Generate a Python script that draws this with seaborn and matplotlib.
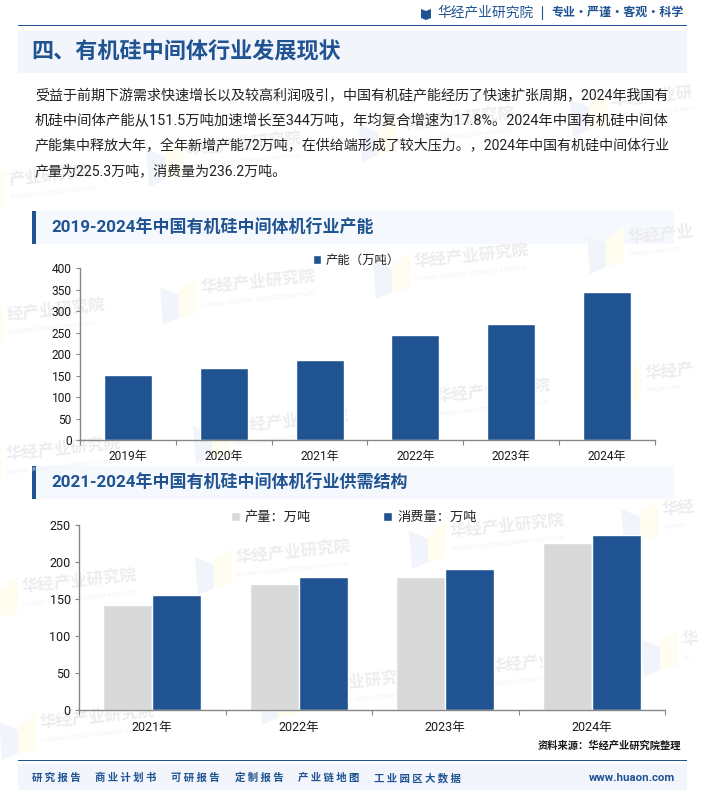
import matplotlib
matplotlib.use("Agg")
import matplotlib.pyplot as plt
from matplotlib.patches import Rectangle, Polygon
import pandas as pd
import seaborn as sns

# ---- data ----
cap_years = ["2019年", "2020年", "2021年", "2022年", "2023年", "2024年"]
capacity = [151.5, 168, 186, 245.5, 271, 344]
sd_years = ["2021年", "2022年", "2023年", "2024年"]
production = [142.5, 170.5, 180, 225.3]
consumption = [155.5, 180, 190.5, 236.2]
cap_label = "产能（万吨）"
prod_label = "产量：万吨"
cons_label = "消费量：万吨"
page_title = "四、有机硅中间体行业发展现状"
title_1 = "2019-2024年中国有机硅中间体机行业产能"
title_2 = "2021-2024年中国有机硅中间体机行业供需结构"
body_lines = [
    "受益于前期下游需求快速增长以及较高利润吸引，中国有机硅产能经历了快速扩张周期，2024年我国有",
    "机硅中间体产能从151.5万吨加速增长至344万吨，年均复合增速为17.8%。2024年中国有机硅中间体",
    "产能集中释放大年，全年新增产能72万吨，在供给端形成了较大压力。，2024年中国有机硅中间体行业",
    "产量为225.3万吨，消费量为236.2万吨。",
]
body_sizes = [14.05, 14.4, 14.03, 14.05]
footer_items = ["研 究 报 告", "商 业 计 划 书", "可 研 报 告", "定 制 报 告", "产 业 链 地 图", "工 业 园 区 大 数 据"]
footer_x = [31.5, 95, 171, 235, 298, 374]
WM = "华经产业研究院"
EN = "HUAJING INDUSTRY RESEARCH INSTITUTE"
wm_spots = [(611, 100, "华经产业研", "HUAJING INDUSTRY RESEARCH"), (400, 125, WM, EN), (187, 150, WM, EN),
            (9, 180, "产业研究院", "INDUSTRY RESEARCH INSTITUTE"), (628, 237, "华经产业", "HUAJING INDUSTRY"),
            (414, 262, WM, EN), (201, 288, WM, EN), (7, 315, "经产业研究院", "INDUSTRY RESEARCH INSTITUTE"),
            (645, 373, "华经产", "HUAJING IND"), (436, 397, WM, EN), (234, 427, WM, EN), (6, 455, WM, EN),
            (450, 532, WM, EN), (236, 558, WM, EN), (22, 587, WM, EN), (40, 723, WM, EN),
            (490, 667, WM, EN), (300, 688, WM, EN), (662, 510, "华经", "HUAJING"), (682, 640, "华", "HU")]

W, H = 705, 791
BLUE = "#1F5391"
GRAY = "#D9D9D9"
AXC = "#868686"
TXT = "#1A1A1A"
CJK = "Noto Sans CJK SC"
MIX = ["Roboto", CJK, "DejaVu Sans"]

sns.set_theme(style="white")
plt.rcParams["font.family"] = MIX
plt.rcParams["axes.unicode_minus"] = False

fig = plt.figure(figsize=(W / 100, H / 100), dpi=100, facecolor="white")
bg = fig.add_axes([0, 0, 1, 1], zorder=0)
bg.set_xlim(0, W); bg.set_ylim(H, 0); bg.axis("off")
px = lambda p: p * 0.72

# bands and rules
bg.add_patch(Rectangle((18, 31), 669, 42, fc="#F2F5FC", ec="none"))
bg.add_patch(Rectangle((18, 24.5), 669, 1.3, fc=BLUE, ec="none"))
bg.add_patch(Rectangle((18, 759.5), 669, 1.3, fc=BLUE, ec="none"))
bg.add_patch(Rectangle((18, 764), 669, 26, fc="#F2F5FC", ec="none"))
for y0 in (211, 466):
    bg.add_patch(Rectangle((32, y0), 642, 33, fc="#F5F8FD", ec="none"))
    bg.add_patch(Rectangle((32, y0), 3.5, 33, fc=BLUE, ec="none"))

# watermarks
for x0, yc, cn, en in wm_spots:
    bg.add_patch(Polygon([(x0 - 41, yc - 1), (x0 - 22, yc + 7), (x0 - 22, yc + 30), (x0 - 38, yc + 37)],
                         fc="#F1F4FA", ec="none"))
    bg.add_patch(Polygon([(x0 - 22, yc + 3), (x0 - 4, yc - 10), (x0 - 4, yc + 26), (x0 - 22, yc + 30)],
                         fc="#FFFCF0", ec="none"))
    bg.text(x0, yc, cn, fontsize=px(16.5), fontweight="bold", color="#EDEDED", rotation=6,
            rotation_mode="anchor", ha="left", va="center", family=[CJK])
    bg.text(x0 + 1, yc + 18, en, fontsize=px(5.5), color="#F1F1F1", rotation=6,
            rotation_mode="anchor", ha="left", va="center", family=["DejaVu Sans"])

# header
bg.add_patch(Polygon([(421, 9), (426, 11), (426, 20), (421, 18)], fc=BLUE, ec="none"))
bg.add_patch(Polygon([(426, 11), (431, 9), (431, 18), (426, 20)], fc=BLUE, ec="none"))
bg.text(437, 12, "华经产业研究院", fontsize=px(13.7), fontweight="medium", color=BLUE, va="center", family=[CJK])
bg.plot([541.5, 541.5], [6, 19], color=BLUE, lw=0.8)
bg.text(684, 12, "专业•严谨•客观•科学", fontsize=px(12), color=BLUE, ha="right", va="center",
        fontweight="bold", family=[CJK, "DejaVu Sans"])

bg.text(31, 52, page_title, fontsize=px(22.1), fontweight="bold", color=BLUE, va="center", family=[CJK])
for y, line, size in zip((96, 121.5, 146, 171.5), body_lines, body_sizes):
    bg.text(35, y, line, fontsize=px(size), color="#222222", va="center", family=MIX)
bg.text(51, 227.5, title_1, fontsize=px(17), fontweight="bold", color=BLUE, va="center", family=MIX)
bg.text(51, 482, title_2, fontsize=px(17), fontweight="bold", color=BLUE, va="center", family=MIX)

# footer
bg.text(681, 746, "资料来源：华经产业研究院整理", fontsize=px(10.3), fontweight="bold", color=TXT, ha="right",
        va="center", family=[CJK])
for x, item in zip(footer_x, footer_items):
    bg.text(x, 778, item, fontsize=px(10.4), fontweight="bold", color=BLUE, va="center", family=[CJK])
bg.text(675, 778, "www.huaon.com", fontsize=px(11.4), fontweight="bold", color=BLUE, ha="right", va="center",
        family=["Roboto"])


def make_axes(x0, x1, y0, y1):
    ax = fig.add_axes([x0 / W, 1 - y1 / H, (x1 - x0) / W, (y1 - y0) / H], zorder=1)
    ax.patch.set_alpha(0)
    return ax


def style(ax, n, ymax, step):
    ax.set_xlim(-0.5, n - 0.5)
    ax.set_ylim(0, ymax)
    ax.set_yticks(range(0, ymax + 1, step))
    ax.set_xlabel(""); ax.set_ylabel("")
    sns.despine(ax=ax)
    for s in ("left", "bottom"):
        ax.spines[s].set_color(AXC)
        ax.spines[s].set_linewidth(1.0)
    ax.set_xticks([i - 0.5 for i in range(n + 1)], minor=True)
    ax.tick_params(axis="x", which="major", length=0, pad=7, labelsize=px(12), labelcolor=TXT)
    ax.tick_params(axis="x", which="minor", length=3.5, width=0.8, color=AXC, direction="out", bottom=True)
    ax.tick_params(axis="y", which="major", length=3, width=0.8, color=AXC, direction="out", left=True,
                   pad=3, labelsize=px(12), labelcolor=TXT)


# chart 1
df1 = pd.DataFrame({"year": cap_years, "value": capacity, "series": cap_label})
ax1 = make_axes(80, 655, 268.3, 440)
sns.barplot(data=df1, x="year", y="value", hue="series", palette=[BLUE], width=0.5, gap=0, dodge=False,
            saturation=1, ax=ax1)
style(ax1, len(cap_years), 400, 50)
ax1.legend(loc="center left", bbox_to_anchor=(233 / 575, 1.045), frameon=False, fontsize=px(12.4), ncol=1,
           handlelength=0.68, handleheight=0.7, handletextpad=0.3, borderpad=0, borderaxespad=0,
           labelcolor="#222222", title=None)

# chart 2
df2 = pd.concat([
    pd.DataFrame({"year": sd_years, "value": production, "series": prod_label}),
    pd.DataFrame({"year": sd_years, "value": consumption, "series": cons_label}),
])
ax2 = make_axes(79, 665, 525, 710.2)
sns.barplot(data=df2, x="year", y="value", hue="series", palette=[GRAY, BLUE], width=0.67, gap=0,
            saturation=1, ax=ax2)
style(ax2, len(sd_years), 250, 50)
ax2.tick_params(axis="x", which="major", labelsize=px(12.5), pad=8)
ax2.tick_params(axis="y", which="major", labelsize=px(12.5))
ax2.legend(loc="center left", bbox_to_anchor=(152 / 586, 1.04), frameon=False, fontsize=px(13.2), ncol=2,
           columnspacing=5.5, handlelength=0.68, handleheight=0.7, handletextpad=0.35, borderpad=0,
           borderaxespad=0, labelcolor="#222222", title=None)

fig.savefig("out.png", dpi=100)
